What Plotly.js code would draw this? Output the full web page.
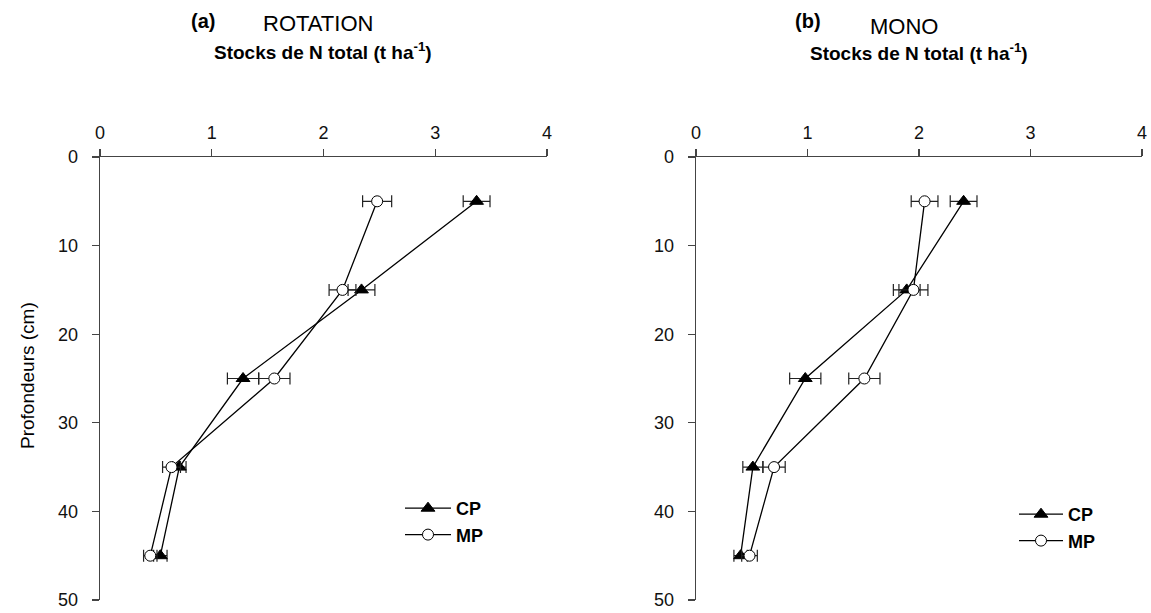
<!DOCTYPE html>
<html>
<head>
<meta charset="utf-8">
<script src="https://cdn.plot.ly/plotly-3.0.1.min.js"></script>
<style>html,body{margin:0;padding:0;background:#fff;}#chart{width:1151px;height:613px;}</style>
</head>
<body>
<div id="chart"></div>
<script>
// Depths (cm)
const depths = [5, 15, 25, 35, 45];
// (a) ROTATION - N stocks (t ha-1)
const rotCP = [3.37, 2.34, 1.28, 0.71, 0.54];
const rotCPerr = [0.12, 0.12, 0.14, 0.06, 0.06];
const rotMP = [2.48, 2.17, 1.56, 0.64, 0.45];
const rotMPerr = [0.13, 0.12, 0.14, 0.08, 0.06];
// (b) MONO
const monoCP = [2.40, 1.89, 0.98, 0.51, 0.40];
const monoCPerr = [0.12, 0.12, 0.14, 0.09, 0.06];
const monoMP = [2.05, 1.95, 1.51, 0.70, 0.48];
const monoMPerr = [0.12, 0.13, 0.14, 0.10, 0.07];
const xTicks = [0, 1, 2, 3, 4];
const yTicks = [0, 10, 20, 30, 40, 50];
const seriesNames = ['CP', 'MP'];

const W = 1151, H = 613;
const FONT = '"Liberation Sans", Arial, sans-serif';
const px = v => v / W;
const py = v => (H - v) / H;

function mk(x, err, name, xa, ya, isCP, leg) {
  return {
    type: 'scatter', mode: 'lines+markers',
    x: x, y: depths, name: name, xaxis: xa, yaxis: ya, legend: leg,
    line: {color: '#000', width: 1.3},
    marker: isCP ? {symbol: 'triangle-up', size: 12, color: '#000', line: {color: '#000', width: 1}}
                 : {symbol: 'circle', size: 11, color: '#fff', line: {color: '#000', width: 1}},
    error_x: {type: 'data', array: err, visible: true, color: '#222', thickness: 1.2, width: 6},
    cliponaxis: false
  };
}

const data = [
  mk(rotCP, rotCPerr, seriesNames[0], 'x', 'y', true, 'legend'),
  mk(rotMP, rotMPerr, seriesNames[1], 'x', 'y', false, 'legend'),
  mk(monoCP, monoCPerr, seriesNames[0], 'x2', 'y2', true, 'legend2'),
  mk(monoMP, monoMPerr, seriesNames[1], 'x2', 'y2', false, 'legend2')
];

function xax(domain, anchor) {
  return {
    domain: domain, anchor: anchor, side: 'top', range: [0, 4], tickvals: xTicks,
    showgrid: false, zeroline: false, showline: true, linecolor: '#444', linewidth: 1.3,
    ticks: 'outside', ticklen: 7, tickcolor: '#444', tickwidth: 1.2,
    tickfont: {family: FONT, size: 18, color: '#111'}, ticklabelstandoff: 3, fixedrange: true
  };
}
function yax(anchor) {
  return {
    domain: [py(600), py(157)], anchor: anchor, range: [50, 0], tickvals: yTicks,
    showgrid: false, zeroline: false, showline: true, linecolor: '#444', linewidth: 1.3,
    ticks: 'outside', ticklen: 7, tickcolor: '#444', tickwidth: 1.2,
    tickfont: {family: FONT, size: 18, color: '#111'}, ticklabelstandoff: 10, fixedrange: true
  };
}

const legBase = {
  font: {family: FONT, size: 18, color: '#000', weight: 'bold'},
  bgcolor: 'rgba(0,0,0,0)', borderwidth: 0, itemwidth: 46, tracegroupgap: 0,
  xanchor: 'left', yanchor: 'top', traceorder: 'normal'
};

const ann = (text, x, y, size, bold, extra) => Object.assign({
  text: bold ? '<b>' + text + '</b>' : text, xref: 'paper', yref: 'paper', x: px(x), y: py(y),
  xanchor: 'center', yanchor: 'middle', showarrow: false,
  font: {family: FONT, size: size, color: '#000'}
}, extra || {});

const layout = {
  width: W, height: H, margin: {l: 0, r: 0, t: 0, b: 0},
  paper_bgcolor: '#fff', plot_bgcolor: '#fff', showlegend: true,
  xaxis: xax([px(100), px(547)], 'y'),
  yaxis: yax('x'),
  xaxis2: xax([px(696), px(1142)], 'y2'),
  yaxis2: yax('x2'),
  legend: Object.assign({}, legBase, {x: px(400), y: py(490)}),
  legend2: Object.assign({}, legBase, {x: px(1014), y: py(496), itemwidth: 44}),
  annotations: [
    ann('(a)', 203, 21, 20, true),
    ann('ROTATION', 318, 24, 22, false),
    ann('Stocks de N total (t ha<sup>-1</sup>)', 323, 51, 19, true),
    ann('(b)', 808, 21, 20, true),
    ann('MONO', 904, 26, 22, false),
    ann('Stocks de N total (t ha<sup>-1</sup>)', 919, 52, 19, true),
    ann('Profondeurs (cm)', 27, 376, 19, false, {textangle: -90})
  ]
};

Plotly.newPlot('chart', data, layout, {displayModeBar: false, staticPlot: true});
</script>
</body>
</html>
